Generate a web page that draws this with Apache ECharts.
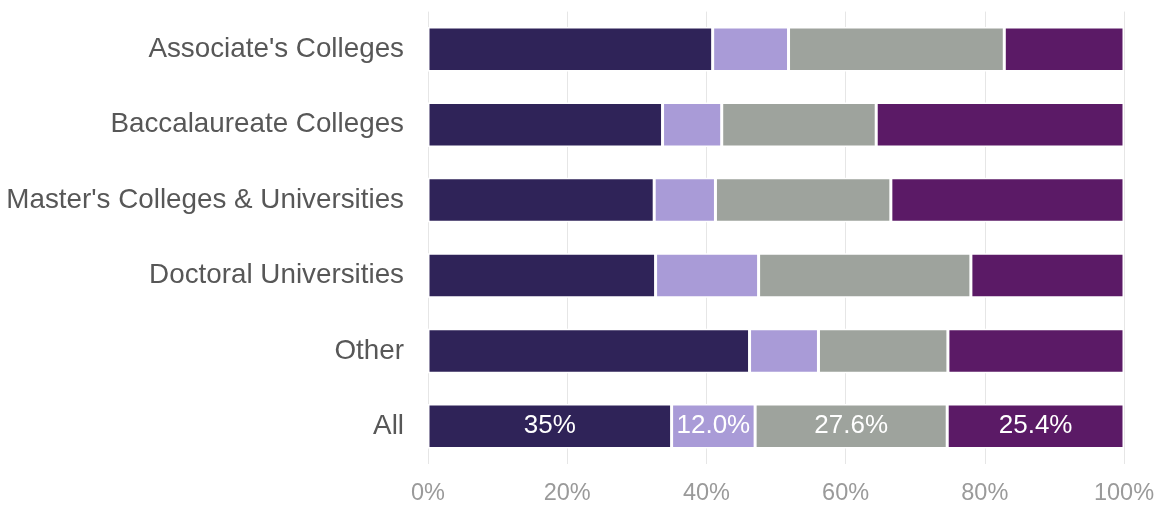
<!DOCTYPE html>
<html>
<head>
<meta charset="utf-8">
<script src="https://cdn.jsdelivr.net/npm/echarts@6/dist/echarts.min.js"></script>
<style>
  html, body { margin: 0; padding: 0; background: #fff; }
  #chart { width: 1162px; height: 506px; }
</style>
</head>
<body>
<div id="chart"></div>
<script>
// Institution types, top to bottom
const categories = [
  "Associate's Colleges",
  "Baccalaureate Colleges",
  "Master's Colleges & Universities",
  "Doctoral Universities",
  "Other",
  "All"
];

// Share (%) in each of the four groups, one entry per category above
const group1 = [40.9, 33.7, 32.5, 32.7, 46.2, 35];
const group2 = [10.9, 8.5, 8.8, 14.8, 9.9, 12.0];
const group3 = [31.0, 22.2, 25.2, 30.5, 18.6, 27.6];
const group4 = [17.2, 35.6, 33.5, 22.0, 25.3, 25.4];

// Decimal places used when labelling the "All" row, per group
const allLabelDecimals = [0, 1, 1, 1];

const xTicks = [0, 20, 40, 60, 80, 100];

const colors = ['#2f2358', '#a99bd7', '#9ea39d', '#5b1a66'];
const groups = [group1, group2, group3, group4];
const FONT = '"Liberation Sans", Arial, sans-serif';

const chart = echarts.init(document.getElementById('chart'));

// Categories run top to bottom, so the axis is inverted
const series = groups.map((vals, gi) => ({
  type: 'bar',
  stack: 'total',
  barWidth: '59%',
  itemStyle: { color: colors[gi], borderColor: '#ffffff', borderWidth: 1.5 },
  data: vals.map((v, i) => {
    const isAll = categories[i] === 'All';
    return {
      value: v,
      label: {
        show: isAll,
        position: 'inside',
        color: '#ffffff',
        fontFamily: FONT,
        fontSize: 26,
        formatter: () => v.toFixed(allLabelDecimals[gi]) + '%'
      }
    };
  })
}));

chart.setOption({
  animation: false,
  backgroundColor: '#ffffff',
  grid: { left: 428, right: 38, top: 11.6, bottom: 39.4, containLabel: false },
  xAxis: {
    type: 'value',
    min: xTicks[0],
    max: xTicks[xTicks.length - 1],
    interval: 20,
    axisLine: { show: false },
    axisTick: { show: false },
    splitLine: { show: true, lineStyle: { color: '#e6e6e6', width: 1 } },
    axisLabel: {
      color: '#9a9a9a',
      fontFamily: FONT,
      fontSize: 23.5,
      margin: 18,
      formatter: v => v + '%'
    }
  },
  yAxis: {
    type: 'category',
    data: categories,
    inverse: true,
    axisLine: { show: false },
    axisTick: { show: false },
    axisLabel: {
      color: '#575757',
      fontFamily: FONT,
      fontSize: 27.8,
      margin: 24
    }
  },
  series: series
});
</script>
</body>
</html>
